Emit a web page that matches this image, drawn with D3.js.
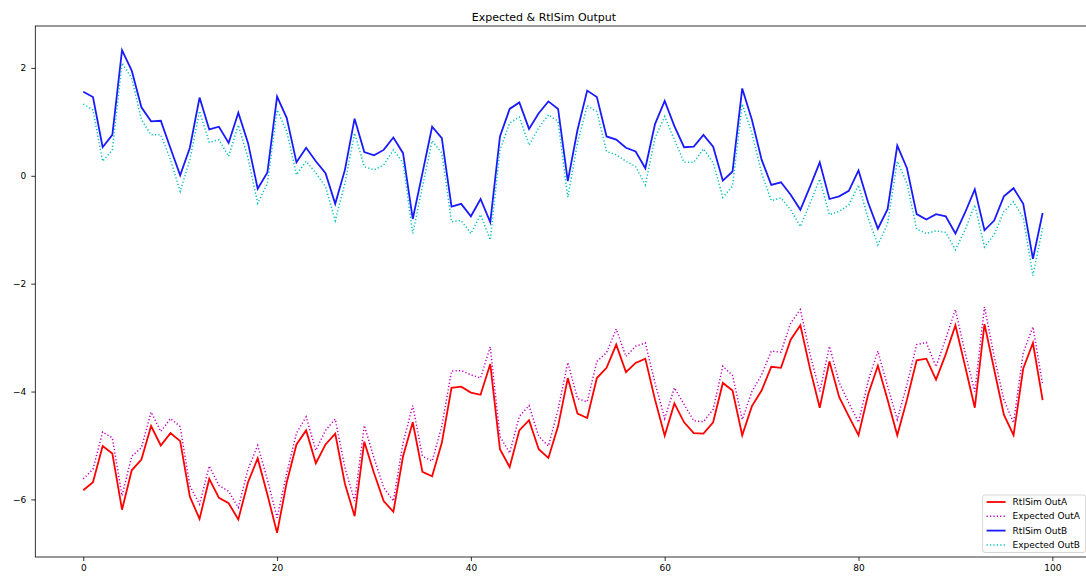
<!DOCTYPE html>
<html>
<head>
<meta charset="utf-8">
<script src="https://cdn.jsdelivr.net/npm/d3@7"></script>
<style>
  html, body { margin: 0; padding: 0; background: #ffffff; }
  svg { display: block; font-family: "DejaVu Sans", sans-serif; }
</style>
</head>
<body>
<svg id="chart" width="1086" height="576"></svg>
<script>
// Simulation outputs, one sample per step
const rtlOutA = [-5.83, -5.68, -5.01, -5.15, -6.19, -5.46, -5.26, -4.64, -5.00, -4.77,
  -4.92, -5.95, -6.36, -5.62, -5.97, -6.07, -6.37, -5.68, -5.24, -5.91,
  -6.62, -5.68, -4.98, -4.72, -5.33, -4.98, -4.78, -5.71, -6.31, -4.93,
  -5.51, -6.03, -6.23, -5.20, -4.57, -5.49, -5.57, -4.95, -3.93, -3.91,
  -4.02, -4.06, -3.49, -5.07, -5.40, -4.72, -4.53, -5.07, -5.23, -4.64,
  -3.75, -4.41, -4.49, -3.75, -3.56, -3.13, -3.64, -3.47, -3.39, -4.15,
  -4.82, -4.22, -4.57, -4.77, -4.78, -4.57, -3.84, -3.98, -4.81, -4.27,
  -3.98, -3.54, -3.56, -3.04, -2.77, -3.58, -4.30, -3.44, -4.10, -4.46,
  -4.81, -4.05, -3.52, -4.15, -4.81, -4.15, -3.42, -3.39, -3.78, -3.31,
  -2.77, -3.53, -4.30, -2.75, -3.59, -4.43, -4.81, -3.57, -3.10, -4.16];

const expectedOutA = [-5.62, -5.44, -4.75, -4.86, -5.93, -5.20, -5.04, -4.38, -4.74, -4.50,
  -4.65, -5.75, -6.09, -5.38, -5.74, -5.85, -6.15, -5.44, -5.00, -5.63,
  -6.34, -5.51, -4.77, -4.47, -5.09, -4.72, -4.51, -5.41, -6.03, -4.63,
  -5.23, -5.78, -6.03, -4.95, -4.26, -5.20, -5.29, -4.64, -3.62, -3.61,
  -3.69, -3.75, -3.17, -4.83, -5.14, -4.46, -4.26, -4.83, -5.01, -4.33,
  -3.46, -4.13, -4.19, -3.44, -3.28, -2.84, -3.35, -3.16, -3.10, -3.84,
  -4.50, -3.93, -4.24, -4.54, -4.56, -4.33, -3.53, -3.70, -4.52, -4.00,
  -3.69, -3.25, -3.27, -2.73, -2.48, -3.31, -4.00, -3.16, -3.83, -4.21,
  -4.57, -3.80, -3.25, -3.90, -4.52, -3.87, -3.13, -3.09, -3.54, -3.02,
  -2.48, -3.28, -4.00, -2.43, -3.35, -4.15, -4.58, -3.28, -2.80, -3.87];

const rtlOutB = [1.56, 1.46, 0.53, 0.76, 2.33, 1.95, 1.27, 1.01, 1.02, 0.51,
  0.01, 0.52, 1.45, 0.86, 0.91, 0.61, 1.17, 0.61, -0.24, 0.06,
  1.47, 1.07, 0.25, 0.52, 0.27, 0.05, -0.52, 0.11, 1.06, 0.44,
  0.38, 0.48, 0.71, 0.42, -0.80, 0.05, 0.91, 0.70, -0.57, -0.52,
  -0.75, -0.43, -0.86, 0.73, 1.24, 1.36, 0.87, 1.16, 1.38, 1.24,
  -0.10, 0.85, 1.58, 1.46, 0.73, 0.67, 0.52, 0.45, 0.14, 0.96,
  1.39, 0.92, 0.53, 0.54, 0.76, 0.54, -0.09, 0.08, 1.62, 1.04,
  0.30, -0.17, -0.12, -0.35, -0.63, -0.20, 0.25, -0.43, -0.38, -0.28,
  0.10, -0.50, -0.98, -0.62, 0.56, 0.14, -0.71, -0.81, -0.71, -0.75,
  -1.07, -0.68, -0.25, -1.01, -0.83, -0.38, -0.23, -0.52, -1.54, -0.69];

const expectedOutB = [1.33, 1.22, 0.27, 0.48, 2.09, 1.81, 1.04, 0.76, 0.76, 0.30,
  -0.29, 0.30, 1.20, 0.62, 0.67, 0.36, 0.94, 0.33, -0.51, -0.14,
  1.22, 0.82, 0.02, 0.27, 0.05, -0.20, -0.83, -0.14, 0.79, 0.17,
  0.11, 0.20, 0.48, 0.24, -1.07, -0.20, 0.65, 0.42, -0.85, -0.83,
  -1.07, -0.72, -1.19, 0.48, 0.98, 1.09, 0.57, 0.89, 1.13, 1.01,
  -0.40, 0.61, 1.30, 1.19, 0.45, 0.39, 0.27, 0.17, -0.17, 0.70,
  1.10, 0.67, 0.25, 0.25, 0.50, 0.24, -0.40, -0.19, 1.33, 0.79,
  0.05, -0.46, -0.41, -0.63, -0.94, -0.51, -0.06, -0.72, -0.66, -0.54,
  -0.17, -0.79, -1.28, -0.89, 0.27, -0.14, -0.99, -1.07, -1.02, -1.05,
  -1.37, -1.00, -0.54, -1.32, -1.09, -0.66, -0.48, -0.78, -1.85, -0.97];

const seriesNames = ["RtlSim OutA", "Expected OutA", "RtlSim OutB", "Expected OutB"];
const xTickValues = [0, 20, 40, 60, 80, 100];
const yTickValues = [-6, -4, -2, 0, 2];
const chartTitle = "Expected & RtlSim Output";

// Plot frame
const frame = { left: 35.3, right: 1090.6, top: 26, bottom: 557 };

const svg = d3.select("#chart");

const allSeries = [rtlOutA, expectedOutA, rtlOutB, expectedOutB];
const styles = [
  { color: "#ff0000", dash: null, width: 1.8 },
  { color: "#bf00bf", dash: "1.2,2.2", width: 1.5 },
  { color: "#1a1aff", dash: null, width: 1.8 },
  { color: "#00bfbf", dash: "1.2,2.2", width: 1.5 }
];

// Axis limits padded by 5% of the data span on each side
const n = rtlOutA.length;
const xPad = (n - 1) * 0.05;
const yMin = d3.min(allSeries, s => d3.min(s));
const yMax = d3.max(allSeries, s => d3.max(s));
const yPad = (yMax - yMin) * 0.05;

const x = d3.scaleLinear().domain([-xPad, n - 1 + xPad]).range([frame.left, frame.right]);
const y = d3.scaleLinear().domain([yMin - yPad, yMax + yPad]).range([frame.bottom, frame.top]);

const fmt = v => String(v).replace("-", "\u2212");

// Axes
const xAxis = svg.append("g")
  .attr("transform", `translate(0,${frame.bottom})`)
  .call(d3.axisBottom(x).tickValues(xTickValues).tickFormat(fmt).tickSize(4).tickPadding(4));
const yAxis = svg.append("g")
  .attr("transform", `translate(${frame.left},0)`)
  .call(d3.axisLeft(y).tickValues(yTickValues).tickFormat(fmt).tickSize(4).tickPadding(5));

[xAxis, yAxis].forEach(g => {
  g.select(".domain").remove();
  g.selectAll(".tick line").attr("stroke", "#000").attr("stroke-width", 0.8);
  g.selectAll(".tick text").attr("fill", "#000").style("font-size", "9px")
    .style("font-family", "'DejaVu Sans', sans-serif");
});

// Series lines
svg.append("clipPath").attr("id", "plot-clip")
  .append("rect")
  .attr("x", frame.left).attr("y", frame.top)
  .attr("width", frame.right - frame.left).attr("height", frame.bottom - frame.top);

const line = d3.line().x((d, i) => x(i)).y(d => y(d));
const plot = svg.append("g").attr("clip-path", "url(#plot-clip)");
allSeries.forEach((s, k) => {
  plot.append("path")
    .datum(s)
    .attr("d", line)
    .attr("fill", "none")
    .attr("stroke", styles[k].color)
    .attr("stroke-width", styles[k].width)
    .attr("stroke-linejoin", "miter")
    .attr("stroke-dasharray", styles[k].dash);
});

// Frame spines
svg.append("rect")
  .attr("x", frame.left).attr("y", frame.top)
  .attr("width", frame.right - frame.left).attr("height", frame.bottom - frame.top)
  .attr("fill", "none").attr("stroke", "#000").attr("stroke-width", 0.8);

// Title
svg.append("text")
  .attr("x", (frame.left + frame.right) / 2 - 19)
  .attr("y", 20.5)
  .attr("text-anchor", "middle")
  .style("font-size", "11px")
  .attr("fill", "#000")
  .text(chartTitle);

// Legend, lower right
const legend = { right: frame.right - 5, bottom: frame.bottom - 4.5, width: 103, rowH: 14.3 };
const legendTop = legend.bottom - 57.5;
const legendLeft = legend.right - legend.width;
const lg = svg.append("g");
lg.append("rect")
  .attr("x", legendLeft).attr("y", legendTop)
  .attr("width", legend.width).attr("height", legend.bottom - legendTop)
  .attr("rx", 2.5)
  .attr("fill", "#fff").attr("fill-opacity", 0.8)
  .attr("stroke", "#cccccc").attr("stroke-width", 0.8);

seriesNames.forEach((name, k) => {
  const cy = legendTop + 7 + k * legend.rowH;
  lg.append("line")
    .attr("x1", legendLeft + 4).attr("x2", legendLeft + 23)
    .attr("y1", cy).attr("y2", cy)
    .attr("stroke", styles[k].color)
    .attr("stroke-width", styles[k].width)
    .attr("stroke-dasharray", styles[k].dash);
  lg.append("text")
    .attr("x", legendLeft + 30).attr("y", cy)
    .attr("dy", "0.35em")
    .style("font-size", "9px")
    .attr("fill", "#000")
    .text(name);
});
</script>
</body>
</html>
